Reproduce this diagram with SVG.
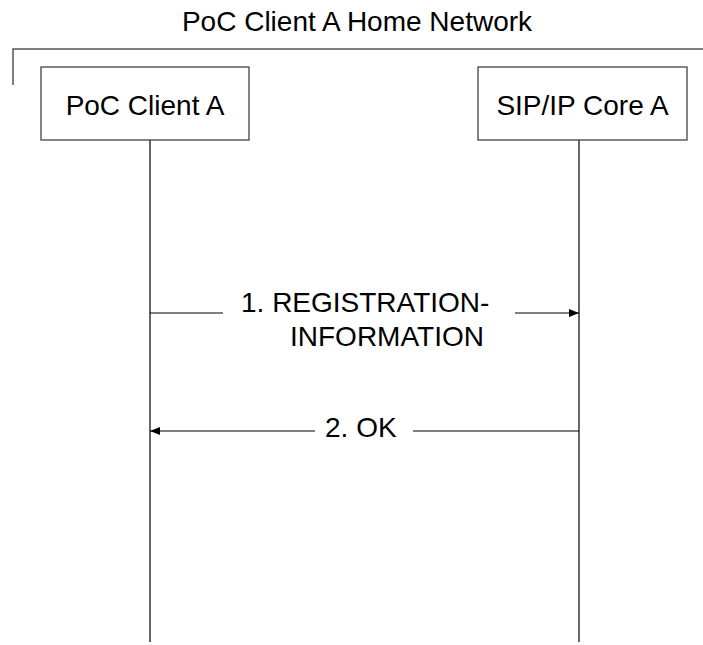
<svg xmlns="http://www.w3.org/2000/svg" width="703" height="645" viewBox="0 0 703 645">
<style>
text{font-family:"Liberation Sans",Arial,sans-serif;font-size:28px;fill:#000}
.box{fill:#fff;stroke:#333;stroke-width:1.2}
.life{stroke:#000;stroke-width:1.2;fill:none}
.msg{stroke:#000;stroke-width:1.2;fill:none}
.frame{stroke:#555;stroke-width:1.5;fill:none}
</style>
<defs>
<marker id="ah" markerWidth="10" markerHeight="8" refX="10" refY="4" orient="auto" markerUnits="userSpaceOnUse">
<path d="M0,0 L10,4 L0,8 Z" fill="#000"/>
</marker>
</defs>
<g id="frame">
<path class="frame" d="M703,49 H13 V85"/>
<text x="357" y="31" text-anchor="middle">PoC Client A Home Network</text>
</g>
<g id="clientA">
<line class="life" x1="150" y1="140" x2="150" y2="642"/>
<rect class="box" x="41" y="67" width="208" height="73"/>
<text x="145" y="115" text-anchor="middle">PoC Client A</text>
</g>
<g id="sipcoreA">
<line class="life" x1="579" y1="140" x2="579" y2="642"/>
<rect class="box" x="478" y="67" width="209" height="73"/>
<text x="582.5" y="115" text-anchor="middle">SIP/IP Core A</text>
</g>
<g id="connectors">
<line class="msg" x1="150" y1="313" x2="223" y2="313"/>
<line class="msg" x1="515" y1="313" x2="579" y2="313" marker-end="url(#ah)"/>
<text x="241" y="312">1. REGISTRATION-</text>
<text x="290" y="346">INFORMATION</text>
<line class="msg" x1="315" y1="431" x2="150" y2="431" marker-end="url(#ah)"/>
<line class="msg" x1="413" y1="431" x2="579" y2="431"/>
<text x="325" y="437">2. OK</text>
</g>
</svg>
